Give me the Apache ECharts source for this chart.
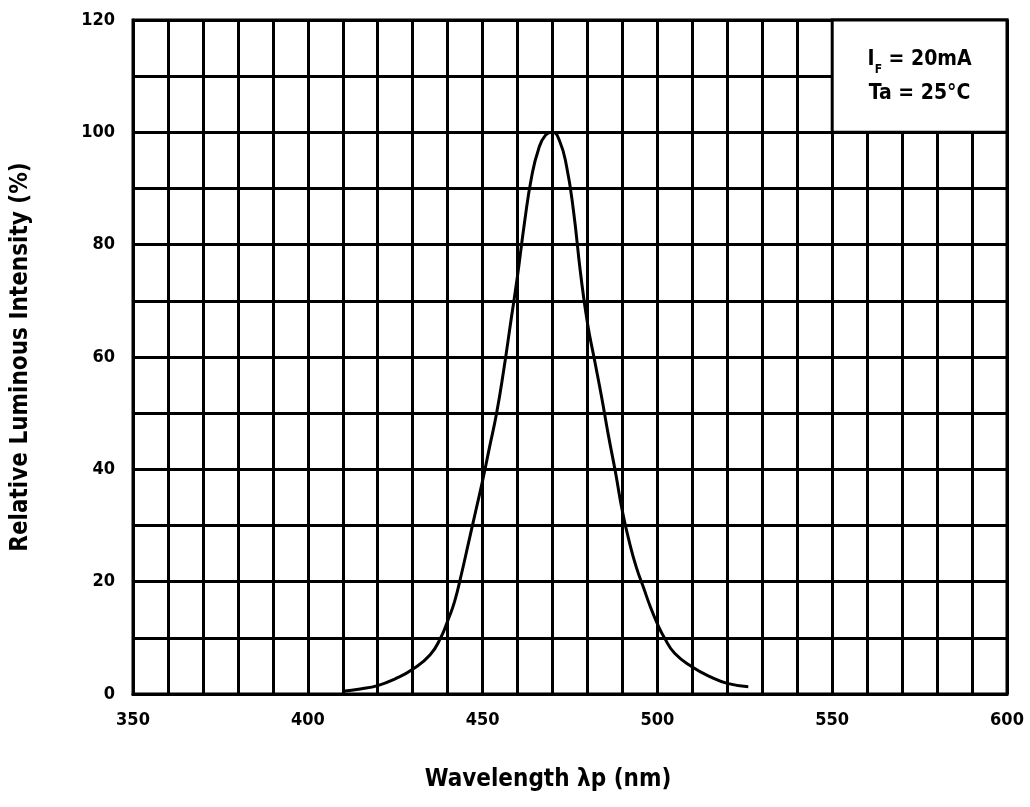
<!DOCTYPE html>
<html>
<head>
<meta charset="utf-8">
<script src="https://cdn.jsdelivr.net/npm/echarts@6/dist/echarts.min.js"></script>
<style>html,body{margin:0;padding:0;background:#fff}#c{width:1030px;height:807px}</style>
</head>
<body>
<div id="c"></div>
<script>
// Wavelength (nm)
const wavelengths = [410, 415, 420, 425, 430, 435, 438, 440, 442, 444, 446, 448, 450, 452, 454, 456, 458, 460, 462, 464, 466, 468, 470, 472, 474, 476, 478, 480, 482, 484, 486, 488, 490, 492, 494, 496, 498, 500, 502, 505, 510, 515, 520, 526];
// Relative luminous intensity (%)
const intensities = [0.5, 0.9, 1.5, 2.7, 4.4, 7, 10, 13, 16.5, 21.5, 27, 32.5, 38, 44, 50, 57.5, 66, 74.5, 84, 92, 97, 99.5, 100, 98.5, 94, 86, 75, 66, 59.5, 53, 46, 39.5, 32.5, 27, 22.5, 19, 15.5, 12.5, 10, 7.2, 4.8, 3.1, 1.9, 1.3];
const xTickLabels = [350, 400, 450, 500, 550, 600];
const yTickLabels = [0, 20, 40, 60, 80, 100, 120];
const conditionLines = ['I', 'F', ' = 20mA', 'Ta = 25°C'];

const chart = echarts.init(document.getElementById('c'));
const font = '"Liberation Sans Narrow", "DejaVu Sans Condensed", "Liberation Sans", sans-serif';
const lineStyle = { color: '#000', width: 3 };
chart.setOption({
  backgroundColor: '#fff',
  animation: false,
  grid: { left: 133, right: 23, top: 20, bottom: 113, show: true, borderColor: '#000', borderWidth: 3 },
  xAxis: {
    type: 'value', min: 350, max: 600, interval: 10,
    name: 'Wavelength λp (nm)', nameLocation: 'middle', nameGap: 74,
    nameTextStyle: { fontFamily: font, fontWeight: 'bold', fontSize: 24, color: '#000', padding: [0, 44, 0, 0] },
    axisLine: { show: true, lineStyle: lineStyle },
    axisTick: { show: false },
    splitLine: { show: true, lineStyle: lineStyle },
    axisLabel: {
      margin: 17, fontFamily: font, fontWeight: 'bold', fontSize: 18, color: '#000',
      formatter: v => xTickLabels.includes(v) ? String(v) : ''
    }
  },
  yAxis: {
    type: 'value', min: 0, max: 120, interval: 10,
    name: 'Relative Luminous Intensity (%)', nameLocation: 'middle', nameGap: 100, nameRotate: 90,
    nameTextStyle: { fontFamily: font, fontWeight: 'bold', fontSize: 24, color: '#000' },
    axisLine: { show: true, lineStyle: lineStyle },
    axisTick: { show: false },
    splitLine: { show: true, lineStyle: lineStyle },
    axisLabel: {
      margin: 18, fontFamily: font, fontWeight: 'bold', fontSize: 18, color: '#000',
      formatter: v => yTickLabels.includes(v) ? String(v) : ''
    }
  },
  series: [{
    type: 'line',
    data: wavelengths.map((w, i) => [w, intensities[i]]),
    smooth: 0.5,
    showSymbol: false,
    lineStyle: { color: '#000', width: 3 },
    markArea: {
      silent: true,
      itemStyle: { color: '#fff', borderColor: '#000', borderWidth: 3 },
      label: {
        show: true, position: 'inside', color: '#000',
        formatter: '{a|' + conditionLines[0] + '}{s|' + conditionLines[1] + '}{a|' + conditionLines[2] + '}\n{a|' + conditionLines[3] + '}',
        rich: {
          a: { fontFamily: font, fontWeight: 'bold', fontSize: 21, color: '#000', lineHeight: 34 },
          s: { fontFamily: font, fontWeight: 'bold', fontSize: 12, color: '#000', verticalAlign: 'bottom', lineHeight: 34, padding: [8, 0, 0, 0] }
        }
      },
      data: [[{ xAxis: 550, yAxis: 120 }, { xAxis: 600, yAxis: 100 }]]
    }
  }]
});
</script>
</body>
</html>
